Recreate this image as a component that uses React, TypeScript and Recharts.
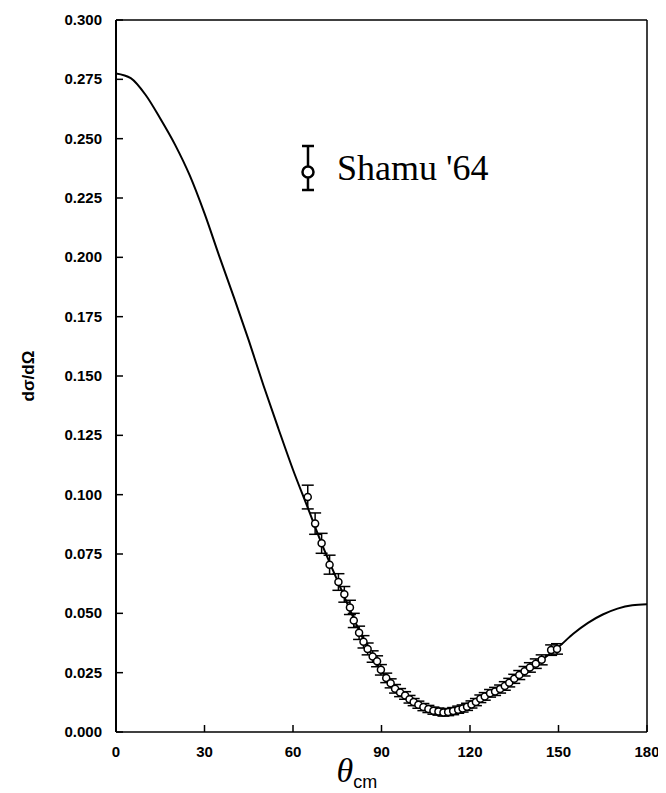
import React from 'react';
import { ComposedChart, Line, Scatter, ErrorBar, XAxis, YAxis, ReferenceLine, Label } from 'recharts';

// theoretical curve, read every 5 degrees
const curveTheta = [0, 5, 10, 15, 20, 25, 30, 35, 40, 45, 50, 55, 60, 65, 70, 75, 80, 85, 90, 95, 100, 105, 110, 115, 120, 125, 130, 135, 140, 145, 150, 155, 160, 165, 170, 175, 180];
const curveValue = [0.2775, 0.2755, 0.2685, 0.2585, 0.2475, 0.2345, 0.2185, 0.2005, 0.183, 0.165, 0.146, 0.128, 0.1105, 0.0945, 0.0785, 0.064, 0.0495, 0.0362, 0.0258, 0.018, 0.0133, 0.01, 0.0084, 0.0089, 0.011, 0.0148, 0.0182, 0.0222, 0.0268, 0.031, 0.0358, 0.0414, 0.046, 0.0495, 0.052, 0.0534, 0.0538];

// Shamu '64 measurements
const dataTheta = [65, 67.5, 69.7, 72.4, 75.4, 77.4, 79.3, 80.6, 82.4, 83.9, 85.3, 87, 88.5, 89.8, 91.6, 93.1, 94.6, 96.3, 98, 99.5, 100.9, 102.5, 104.2, 105.9, 107.6, 109.3, 111, 112.6, 114.3, 116, 117.5, 119, 120.5, 122, 123.5, 125, 126.8, 128.5, 130.2, 131.8, 133.3, 135, 136.7, 138.5, 140.3, 142.3, 144.3, 147.5, 149.5];
const dataValue = [0.099, 0.0878, 0.0795, 0.0705, 0.0632, 0.058, 0.0525, 0.047, 0.0418, 0.038, 0.035, 0.0318, 0.0298, 0.0262, 0.0228, 0.0205, 0.0182, 0.0166, 0.0154, 0.0138, 0.0126, 0.0115, 0.0105, 0.0097, 0.009, 0.0086, 0.0082, 0.0084, 0.0088, 0.0094, 0.0099, 0.0106, 0.0116, 0.0126, 0.014, 0.015, 0.0163, 0.0171, 0.0181, 0.0194, 0.0208, 0.0224, 0.024, 0.0256, 0.0272, 0.0288, 0.0304, 0.0345, 0.035];
const dataError = [0.005, 0.0045, 0.0042, 0.004, 0.0035, 0.0033, 0.003, 0.003, 0.0028, 0.0026, 0.0025, 0.0024, 0.0023, 0.0022, 0.002, 0.0019, 0.0018, 0.0017, 0.0016, 0.0016, 0.0015, 0.0015, 0.0015, 0.0015, 0.0015, 0.0015, 0.0015, 0.0015, 0.0015, 0.0015, 0.0015, 0.0015, 0.0015, 0.0015, 0.0016, 0.0016, 0.0016, 0.0017, 0.0017, 0.0018, 0.0018, 0.0019, 0.0019, 0.002, 0.002, 0.002, 0.0021, 0.0022, 0.0022];

const xTicks = [0, 30, 60, 90, 120, 150, 180];
const yTicks = [0, 0.025, 0.05, 0.075, 0.1, 0.125, 0.15, 0.175, 0.2, 0.225, 0.25, 0.275, 0.3];

const curve = curveTheta.map((x, i) => ({ x, y: curveValue[i] }));
const points = dataTheta.map((x, i) => ({ x, y: dataValue[i], err: dataError[i] }));

const sans = '"Liberation Sans", Arial, sans-serif';

// ticks point into the plot, labels sit outside
const XTick = (props: any) => {
  const { x, y, payload } = props;
  return (
    <g>
      <line x1={x} y1={y} x2={x} y2={y - 7} stroke="#000" strokeWidth={1.5} />
      <text x={x} y={y + 25} textAnchor="middle" fontFamily={sans} fontSize={15} fontWeight={700} fill="#000">
        {payload.value}
      </text>
    </g>
  );
};

const YTick = (props: any) => {
  const { x, y, payload } = props;
  return (
    <g>
      <line x1={x} y1={y} x2={x + 7} y2={y} stroke="#000" strokeWidth={1.5} />
      <text x={x - 14} y={y + 5} textAnchor="end" fontFamily={sans} fontSize={15} fontWeight={700} fill="#000">
        {Number(payload.value).toFixed(3)}
      </text>
    </g>
  );
};

const OpenCircle = (props: any) => {
  const { cx, cy } = props;
  return <circle cx={cx} cy={cy} r={3.5} fill="#fff" stroke="#000" strokeWidth={1.5} />;
};

export default function App() {
  return (
    <div style={{ position: 'relative', width: 658, height: 785, background: '#fff' }}>
      <ComposedChart width={658} height={785} margin={{ top: 12, right: 19, bottom: 0, left: 0 }}>
        <XAxis
          dataKey="x"
          type="number"
          domain={[0, 180]}
          ticks={xTicks}
          height={61}
          stroke="#000"
          strokeWidth={1.5}
          tickLine={false}
          tickSize={0}
          tickMargin={0}
          tick={<XTick />}
          allowDataOverflow
        >
          <Label
            content={(p: any) => {
              const vb = p.viewBox;
              const cx = vb.x + vb.width / 2;
              return (
                <text x={cx - 45} y={774}>
                  <tspan fontFamily='"Liberation Serif", serif' fontStyle="italic" fontSize={34}>θ</tspan>
                  <tspan fontFamily={sans} fontSize={18} dy={6}>cm</tspan>
                </text>
              );
            }}
          />
        </XAxis>
        <YAxis
          dataKey="y"
          type="number"
          domain={[0, 0.3]}
          ticks={yTicks}
          width={108}
          stroke="#000"
          strokeWidth={2}
          tickLine={false}
          tickSize={0}
          tickMargin={0}
          tick={<YTick />}
          allowDataOverflow
        >
          <Label
            content={(p: any) => {
              const vb = p.viewBox;
              const cy = vb.y + vb.height / 2;
              return (
                <text
                  x={25.5}
                  y={cy}
                  transform={`rotate(-90, 25.5, ${cy})`}
                  textAnchor="middle"
                  fontFamily={sans}
                  fontSize={17}
                  fontWeight={700}
                >
                  dσ/dΩ
                </text>
              );
            }}
          />
        </YAxis>
        <ReferenceLine y={0.3} stroke="#000" strokeWidth={1.5} />
        <ReferenceLine x={180} stroke="#000" strokeWidth={1.5} />
        <Line
          data={curve}
          dataKey="y"
          type="monotone"
          stroke="#000"
          strokeWidth={2}
          dot={false}
          activeDot={false}
          isAnimationActive={false}
        />
        <Scatter data={points} dataKey="y" shape={OpenCircle} isAnimationActive={false}>
          <ErrorBar dataKey="err" direction="y" width={6} stroke="#000" strokeWidth={1.5} />
        </Scatter>
      </ComposedChart>
      <svg width={240} height={70} style={{ position: 'absolute', left: 280, top: 130 }}>
        <line x1={20} y1={8} x2={20} y2={52} stroke="#000" strokeWidth={2.5} />
        <line x1={14} y1={8} x2={26} y2={8} stroke="#000" strokeWidth={2.5} />
        <line x1={14} y1={52} x2={26} y2={52} stroke="#000" strokeWidth={2.5} />
        <circle cx={20} cy={34} r={5.5} fill="#fff" stroke="#000" strokeWidth={2.5} />
        <text x={49} y={42} fontFamily='"Liberation Serif", "Times New Roman", serif' fontSize={36} fill="#000">
          Shamu '64
        </text>
      </svg>
    </div>
  );
}
